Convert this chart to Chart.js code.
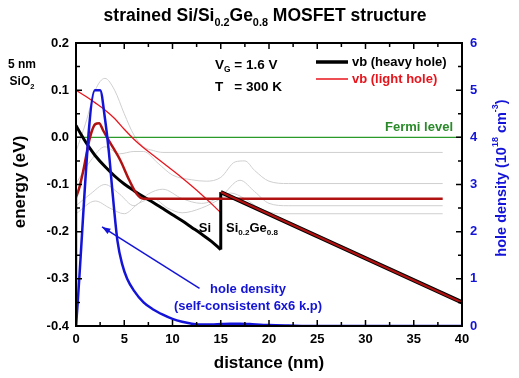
<!doctype html>
<html>
<head>
<meta charset="utf-8">
<title>strained Si/SiGe MOSFET</title>
<script src="https://cdn.jsdelivr.net/npm/chart.js"></script>
<style>
  body { margin: 0; background: #fff; }
  canvas { display: block; }
</style>
</head>
<body>
<canvas id="grafico" width="519" height="378"></canvas>
<script>
// valence band, heavy hole (Si channel, then SiGe)
var hhX = [0, 0.5, 1, 1.5, 2, 3, 4, 5, 6, 7, 8, 9, 10, 11, 12, 13, 14, 15]
var hhE = [0.025, 0.007, -0.01, -0.025, -0.039, -0.062, -0.082, -0.099, -0.113, -0.126, -0.138, -0.151, -0.164, -0.177, -0.191, -0.205, -0.22, -0.238]
var degrauX = [15, 15]
var degrauE = [-0.238, -0.116]
var sigeX = [15, 40]
var sigeE = [-0.116, -0.35]

// light hole
var lhX = [0, 1, 2, 3, 4, 5, 6, 7, 8, 9, 10, 11, 12, 13, 14, 15]
var lhE = [0.1, 0.087, 0.073, 0.058, 0.04, 0.017, -0.004, -0.022, -0.038, -0.054, -0.07, -0.086, -0.103, -0.121, -0.14, -0.16]

// ground state (dark red), plus oxide edge
var oxidoX = [0, 0]
var oxidoE = [-0.4, -0.127]
var fundX = [0, 0.3, 0.76, 1.45, 2.0, 2.4, 2.8, 3.5, 4.6, 5.5, 6.3, 7, 8, 38]
var fundE = [-0.127, -0.11, -0.07, 0.0, 0.028, 0.03, 0.015, -0.01, -0.049, -0.09, -0.12, -0.13, -0.13, -0.13]

// Fermi level
var fermiX = [0, 40]
var fermiE = [0, 0]

// excited states (gray)
var g1X = [0, 1, 2, 3, 4, 5, 6, 7, 8, 9, 38]
var g1E = [-0.03, 0.03, 0.1, 0.125, 0.1, 0.05, 0.005, -0.02, -0.028, -0.032, -0.032]
var g2X = [0, 1.5, 3, 4.5, 6, 7, 8.5, 10, 12, 13.5, 15, 16.5, 17.5, 18.5, 20, 22, 38]
var g2E = [-0.098, -0.05, -0.02, -0.035, -0.03, -0.03, -0.055, -0.08, -0.09, -0.093, -0.085, -0.052, -0.05, -0.07, -0.093, -0.098, -0.098]
var g3X = [0, 1.5, 3, 4.5, 6, 7.5, 9, 11, 13, 15, 17, 18.5, 20, 22, 38]
var g3E = [-0.145, -0.12, -0.1, -0.12, -0.145, -0.12, -0.11, -0.13, -0.14, -0.125, -0.091, -0.115, -0.14, -0.145, -0.145]
var g4X = [0, 2, 3.5, 5, 6.5, 8, 9.5, 11, 13, 15, 16, 17.5, 19, 21, 38]
var g4E = [-0.162, -0.135, -0.15, -0.162, -0.14, -0.13, -0.15, -0.16, -0.15, -0.13, -0.118, -0.13, -0.15, -0.162, -0.162]

// hole density (10^18 cm^-3)
var densX = [0, 1.95, 2.5, 3.0, 3.4, 3.8, 4.3, 4.8, 5.3, 6, 7, 8, 9, 10, 11, 12, 13, 14, 15, 16, 17, 18, 20, 22, 25, 40]
var densV = [0, 5.0, 5.0, 4.4, 3.7, 2.8, 1.8, 1.3, 1.0, 0.75, 0.5, 0.35, 0.24, 0.15, 0.09, 0.05, 0.03, 0.03, 0.04, 0.05, 0.05, 0.04, 0.02, 0.01, 0, 0]

var xTicksPasso = 5
var yTicksPasso = 0.1
var y2TicksPasso = 1

var FONTE = '"Liberation Sans", Arial, sans-serif'
var AZUL = '#1414d8'
var VERMELHO_ESC = '#b01212'

function pts(xs, ys) {
  return xs.map(function (x, i) { return { x: x, y: ys[i] } })
}

function serie(xs, ys, cor, largura, eixo, suave) {
  return {
    data: pts(xs, ys),
    borderColor: cor,
    borderWidth: largura,
    showLine: true,
    pointRadius: 0,
    fill: false,
    yAxisID: eixo || 'y',
    cubicInterpolationMode: suave ? 'monotone' : 'default',
    tension: 0
  }
}

function texto(ctx, partes, x, y, tam, cor, alinhar) {
  var fator = 0.62
  var w = 0
  partes.forEach(function (p) {
    var s = p[1] ? tam * fator : tam
    ctx.font = 'bold ' + s + 'px ' + FONTE
    w += ctx.measureText(p[0]).width
  })
  var cx = alinhar == 'center' ? x - w / 2 : alinhar == 'right' ? x - w : x
  ctx.fillStyle = cor
  ctx.textAlign = 'left'
  ctx.textBaseline = 'middle'
  partes.forEach(function (p) {
    var s = p[1] ? tam * fator : tam
    ctx.font = 'bold ' + s + 'px ' + FONTE
    var dy = p[1] == 'sub' ? tam * 0.38 : p[1] == 'sup' ? -tam * 0.42 : 0
    ctx.fillText(p[0], cx, y + dy)
    cx += ctx.measureText(p[0]).width
  })
}

var marcas = {
  id: 'marcas',
  afterDatasetsDraw: function (chart) {
    var ctx = chart.ctx, a = chart.chartArea
    var sx = chart.scales.x, sy = chart.scales.y, sy2 = chart.scales.y2
    ctx.save()
    ctx.strokeStyle = '#000'
    ctx.lineWidth = 1.5
    ctx.beginPath()
    var tx = sx.ticks.map(function (t) { return t.value })
    tx.forEach(function (v, i) {
      var p = sx.getPixelForValue(v)
      ctx.moveTo(p, a.bottom); ctx.lineTo(p, a.bottom - 6)
      ctx.moveTo(p, a.top); ctx.lineTo(p, a.top + 6)
      if (i < tx.length - 1) {
        var m = sx.getPixelForValue((v + tx[i + 1]) / 2)
        ctx.moveTo(m, a.bottom); ctx.lineTo(m, a.bottom - 4)
        ctx.moveTo(m, a.top); ctx.lineTo(m, a.top + 4)
      }
    })
    var ty = sy.ticks.map(function (t) { return t.value })
    ty.forEach(function (v, i) {
      var p = sy.getPixelForValue(v)
      ctx.moveTo(a.left, p); ctx.lineTo(a.left + 6, p)
      if (i < ty.length - 1) {
        var m = sy.getPixelForValue((v + ty[i + 1]) / 2)
        ctx.moveTo(a.left, m); ctx.lineTo(a.left + 4, m)
      }
    })
    var ty2 = sy2.ticks.map(function (t) { return t.value })
    ty2.forEach(function (v, i) {
      var p = sy2.getPixelForValue(v)
      ctx.moveTo(a.right, p); ctx.lineTo(a.right - 6, p)
      if (i < ty2.length - 1) {
        var m = sy2.getPixelForValue((v + ty2[i + 1]) / 2)
        ctx.moveTo(a.right, m); ctx.lineTo(a.right - 4, m)
      }
    })
    ctx.stroke()
    ctx.lineWidth = 2
    ctx.strokeRect(a.left, a.top, a.right - a.left, a.bottom - a.top)

    // arrow to the density peak
    var x1 = sx.getPixelForValue(12.8), y1 = sy.getPixelForValue(-0.32)
    var x2 = sx.getPixelForValue(2.7), y2 = sy.getPixelForValue(-0.19)
    ctx.strokeStyle = AZUL
    ctx.fillStyle = AZUL
    ctx.lineWidth = 1.5
    ctx.beginPath(); ctx.moveTo(x1, y1); ctx.lineTo(x2, y2); ctx.stroke()
    var ang = Math.atan2(y2 - y1, x2 - x1)
    ctx.beginPath()
    ctx.moveTo(x2, y2)
    ctx.lineTo(x2 - 9 * Math.cos(ang - 0.35), y2 - 9 * Math.sin(ang - 0.35))
    ctx.lineTo(x2 - 9 * Math.cos(ang + 0.35), y2 - 9 * Math.sin(ang + 0.35))
    ctx.closePath(); ctx.fill()

    // legend
    ctx.lineWidth = 3.5
    ctx.strokeStyle = '#000'
    ctx.beginPath(); ctx.moveTo(316, 62); ctx.lineTo(348, 62); ctx.stroke()
    ctx.lineWidth = 1.5
    ctx.strokeStyle = '#e8141c'
    ctx.beginPath(); ctx.moveTo(316, 79); ctx.lineTo(348, 79); ctx.stroke()
    texto(ctx, [['vb (heavy hole)']], 352, 62, 13, '#000', 'left')
    texto(ctx, [['vb (light hole)']], 352, 79, 13, '#e8141c', 'left')

    // title and labels
    texto(ctx, [['strained Si/Si'], ['0.2', 'sub'], ['Ge'], ['0.8', 'sub'], [' MOSFET structure']], 265, 16, 17.5, '#000', 'center')
    texto(ctx, [['5 nm']], 22, 65, 12, '#000', 'center')
    texto(ctx, [['SiO'], ['2', 'sub']], 22, 82, 12, '#000', 'center')
    texto(ctx, [['V'], ['G', 'sub'], [' = 1.6 V']], 215, 65, 13.5, '#000', 'left')
    texto(ctx, [['T']], 215, 87, 13.5, '#000', 'left')
    ctx.font = 'bold 13.5px ' + FONTE
    var wV = ctx.measureText('V').width
    ctx.font = 'bold ' + (13.5 * 0.62) + 'px ' + FONTE
    wV += ctx.measureText('G').width
    texto(ctx, [[' = 300 K']], 215 + wV, 87, 13.5, '#000', 'left')
    texto(ctx, [['Fermi level']], 453, 127, 13, '#2a8a2a', 'right')
    texto(ctx, [['Si']], 205, 228, 13, '#000', 'center')
    texto(ctx, [['Si'], ['0.2', 'sub'], ['Ge'], ['0.8', 'sub']], 226, 228, 13, '#000', 'left')
    texto(ctx, [['hole density']], 248, 289, 13, AZUL, 'center')
    texto(ctx, [['(self-consistent 6x6 k.p)']], 248, 306, 13, AZUL, 'center')
    texto(ctx, [['distance (nm)']], 269, 363, 17, '#000', 'center')

    ctx.save()
    ctx.translate(20, 182)
    ctx.rotate(-Math.PI / 2)
    texto(ctx, [['energy (eV)']], 0, 0, 17, '#000', 'center')
    ctx.restore()

    ctx.save()
    ctx.translate(502, 178)
    ctx.rotate(-Math.PI / 2)
    texto(ctx, [['hole density (10'], ['18', 'sup'], [' cm'], ['-3', 'sup'], [')']], 0, 0, 14.5, AZUL, 'center')
    ctx.restore()
    ctx.restore()
  }
}

var fonteTick = { family: FONTE, size: 13, weight: 'bold' }

var grafico = new Chart(document.getElementById('grafico').getContext('2d'), {
  type: 'scatter',
  data: {
    datasets: [
      serie(densX, densV, AZUL, 2.5, 'y2', true),
      serie(sigeX, sigeE, VERMELHO_ESC, 2.2),
      serie(sigeX, sigeE, '#000', 4.2),
      serie(fundX, fundE, VERMELHO_ESC, 2.5, 'y', true),
      serie(oxidoX, oxidoE, VERMELHO_ESC, 2.5),
      serie(hhX, hhE, '#000', 3, 'y', true),
      serie(degrauX, degrauE, '#000', 3),
      serie(lhX, lhE, '#e8141c', 1.3, 'y', true),
      serie(fermiX, fermiE, '#2a9a2a', 1.3),
      serie(g1X, g1E, '#cfcfcf', 1, 'y', true),
      serie(g2X, g2E, '#cfcfcf', 1, 'y', true),
      serie(g3X, g3E, '#cfcfcf', 1, 'y', true),
      serie(g4X, g4E, '#cfcfcf', 1, 'y', true)
    ]
  },
  options: {
    responsive: false,
    animation: false,
    layout: { padding: { top: 43, left: 0, right: 0, bottom: 0 } },
    plugins: {
      legend: { display: false },
      tooltip: { enabled: false }
    },
    scales: {
      x: {
        type: 'linear',
        min: 0,
        max: 40,
        grid: { display: false, drawTicks: false },
        border: { display: false },
        ticks: { stepSize: xTicksPasso, color: '#000', font: fonteTick, padding: 6, maxRotation: 0 },
        afterFit: function (s) { s.height = 52 }
      },
      y: {
        position: 'left',
        min: -0.4,
        max: 0.2,
        grid: { display: false, drawTicks: false },
        border: { display: false },
        ticks: {
          stepSize: yTicksPasso, color: '#000', font: fonteTick, padding: 7,
          callback: function (v) { return Math.abs(v) < 1e-9 ? '0.0' : Number(v).toFixed(1) }
        },
        afterFit: function (s) { s.width = 76 }
      },
      y2: {
        position: 'right',
        min: 0,
        max: 6,
        grid: { display: false, drawTicks: false },
        border: { display: false },
        ticks: { stepSize: y2TicksPasso, color: AZUL, font: fonteTick, padding: 8 },
        afterFit: function (s) { s.width = 57 }
      }
    }
  },
  plugins: [marcas]
})
</script>
</body>
</html>
